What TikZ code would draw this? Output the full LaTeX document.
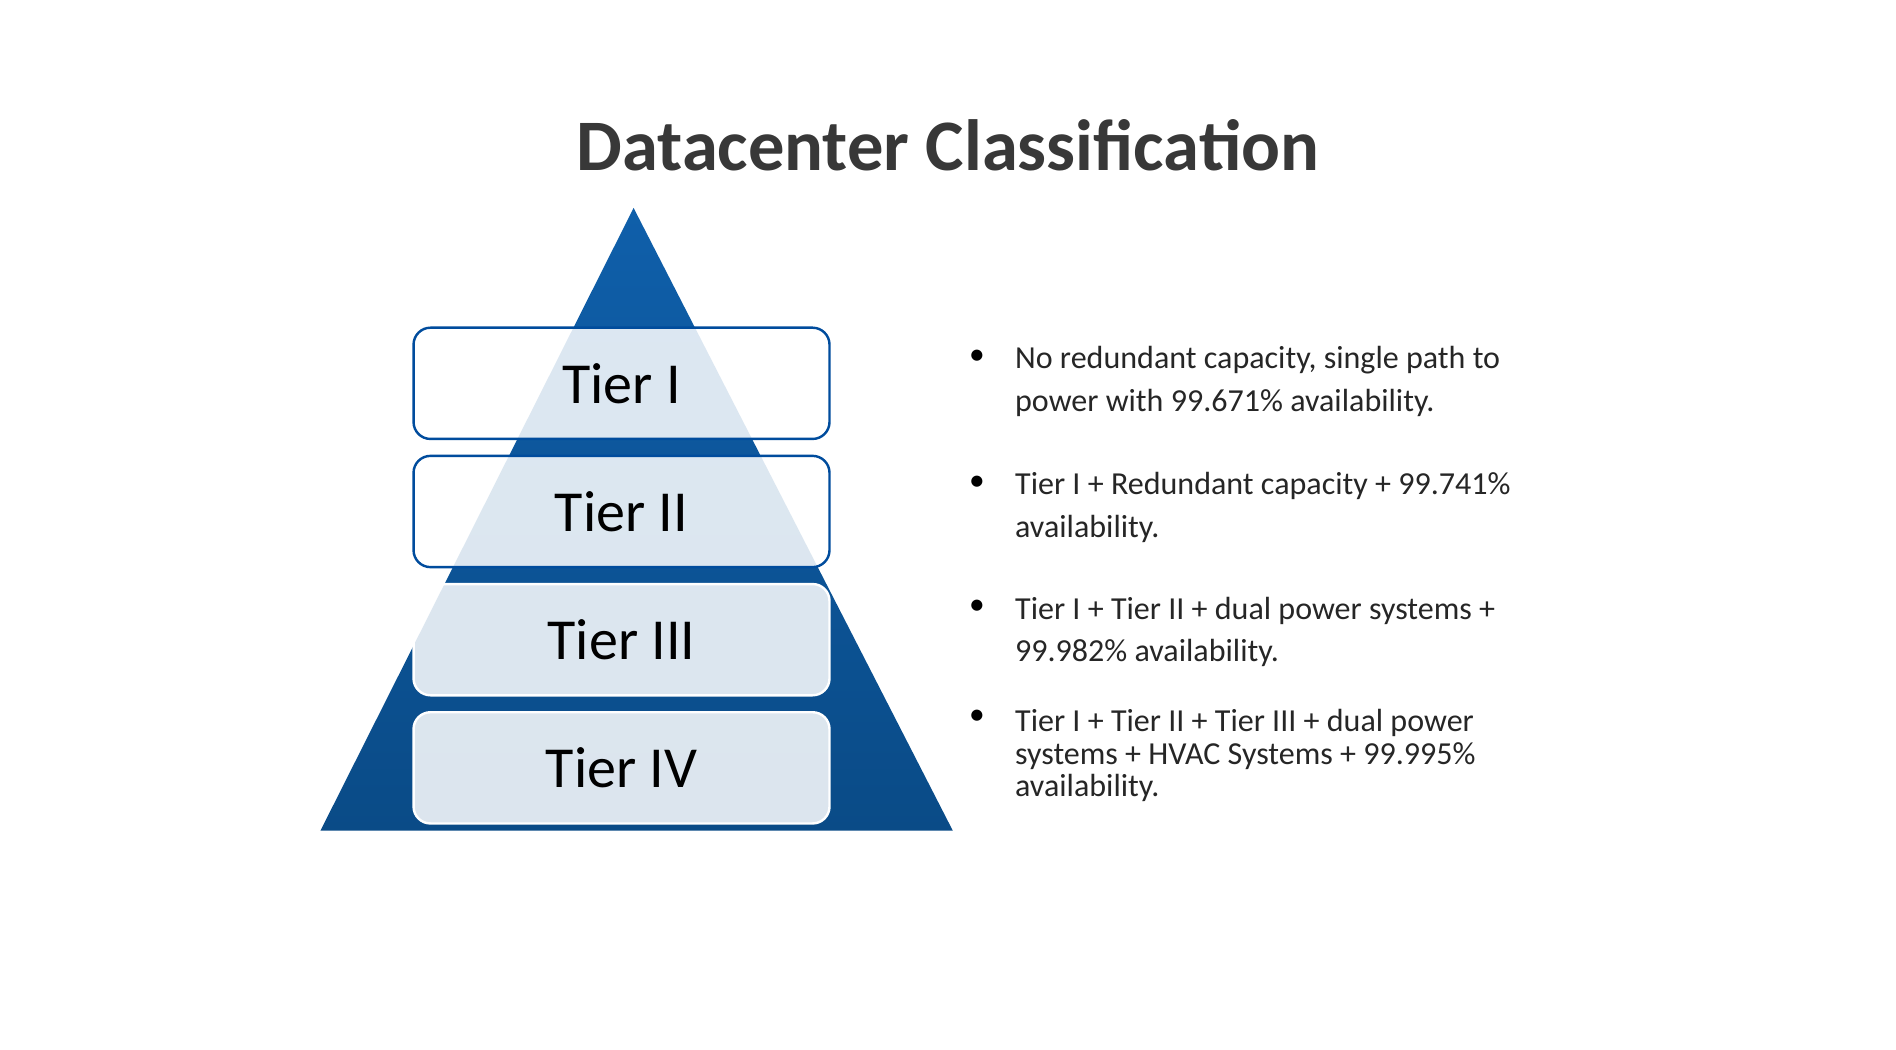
\documentclass[tikz,border=0pt]{standalone}
\usepackage{fontspec}
\setmainfont{Carlito}
\begin{document}
\begin{tikzpicture}[x=1pt,y=-1pt,
 tier/.style={rounded corners=14pt,fill=white,fill opacity=0.86,text opacity=1,minimum width=344pt,minimum height=92pt,font=\fontsize{48}{50}\selectfont,line width=2pt},
 tierA/.style={tier,draw=blue!45!black!70!cyan},
 tierB/.style={tier,draw=white},
 bul/.style={anchor=north west,align=left,font=\fontsize{26.5}{35.5}\selectfont,text=black!85},
 dot/.style={anchor=north,font=\fontsize{26}{30}\selectfont}]
\useasboundingbox[fill=white] (0,0) rectangle (1568,868);
\node[font=\bfseries\fontsize{60}{64}\selectfont,text=black!78] (title) at (784,120) {Datacenter Classification};
\shade[top color={rgb,255:red,15;green,95;blue,170},bottom color={rgb,255:red,10;green,75;blue,135}] (524,172) -- (788,687) -- (265,687) -- cycle;
\node[tierA] (t1) at (514,317) {Tier I};
\node[tierA] (t2) at (514,423) {Tier II};
\node[tierB] (t3) at (514,529) {Tier III};
\node[tierB] (t4) at (514,635) {Tier IV};
\foreach \y in {286,390,493,584} \node[dot] at (808,\y) {•};
\node[bul] (b1) at (836,283) {No redundant capacity, single path to\\power with 99.671\% availability.};
\node[bul] (b2) at (836,387) {Tier I + Redundant capacity + 99.741\%\\availability.};
\node[bul] (b3) at (836,490) {Tier I + Tier II + dual power systems +\\99.982\% availability.};
\node[bul,font=\fontsize{26.5}{27}\selectfont] (b4) at (836,583) {Tier I + Tier II + Tier III + dual power\\systems + HVAC Systems + 99.995\%\\availability.};
\end{tikzpicture}
\end{document}
